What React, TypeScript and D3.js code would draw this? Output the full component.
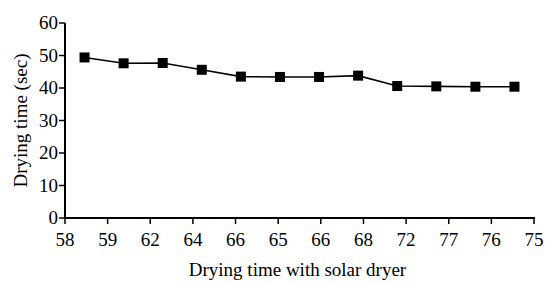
import React from "react";
import * as d3 from "d3";

const tickLabels = ["58", "59", "62", "64", "66", "65", "66", "68", "72", "77", "76", "75"];
const dryingTime = [49.4, 47.6, 47.7, 45.6, 43.5, 43.4, 43.4, 43.8, 40.6, 40.5, 40.4, 40.4];
const yTicks = [0, 10, 20, 30, 40, 50, 60];

const W = 546, H = 283;
const left = 65, right = 534, top = 23, bottom = 218;
const font = "Liberation Serif";

export default function App() {
  const idx = dryingTime.map((_, i) => i);
  const xPt = d3.scalePoint<number>().domain(idx).range([left, right]).padding(0.5);
  const xTick = d3.scalePoint<number>().domain(tickLabels.map((_, i) => i)).range([left, right]).padding(0);
  const y = d3.scaleLinear().domain([0, 60]).range([bottom, top]);
  const line = d3.line<number>().x((_, i) => xPt(i)!).y((d) => y(d));
  const ms = 10;
  const ts = { fontFamily: font, fontSize: "19px" };
  return (
    <svg width={W} height={H} style={{ position: "absolute", left: 0, top: 0 }}>
      <rect width={W} height={H} fill="#fff" />
      <line x1={left} x2={left} y1={top} y2={bottom + 1} stroke="#000" strokeWidth={2} />
      <line x1={left - 1} x2={right + 1} y1={bottom} y2={bottom} stroke="#000" strokeWidth={2} />
      {yTicks.map((t) => (
        <g key={t}>
          <line x1={left - 6} x2={left} y1={y(t)} y2={y(t)} stroke="#000" strokeWidth={1.5} />
          <text x={left - 7} y={y(t)} dy="0.33em" textAnchor="end" style={ts}>
            {t}
          </text>
        </g>
      ))}
      {tickLabels.map((l, i) => (
        <g key={i}>
          <line x1={xTick(i)} x2={xTick(i)} y1={bottom} y2={bottom + 6} stroke="#000" strokeWidth={1.5} />
          <text x={xTick(i)} y={bottom + 28} textAnchor="middle" style={ts}>
            {l}
          </text>
        </g>
      ))}
      <text x={297.5} y={276} textAnchor="middle" style={ts}>
        Drying time with solar dryer
      </text>
      <text transform={`translate(27,${(top + bottom) / 2}) rotate(-90)`} textAnchor="middle" style={ts}>
        Drying time (sec)
      </text>
      <path d={line(dryingTime)!} fill="none" stroke="#000" strokeWidth={1.6} />
      {dryingTime.map((d, i) => (
        <rect key={i} x={xPt(i)! - ms / 2} y={y(d) - ms / 2} width={ms} height={ms} fill="#000" />
      ))}
    </svg>
  );
}
